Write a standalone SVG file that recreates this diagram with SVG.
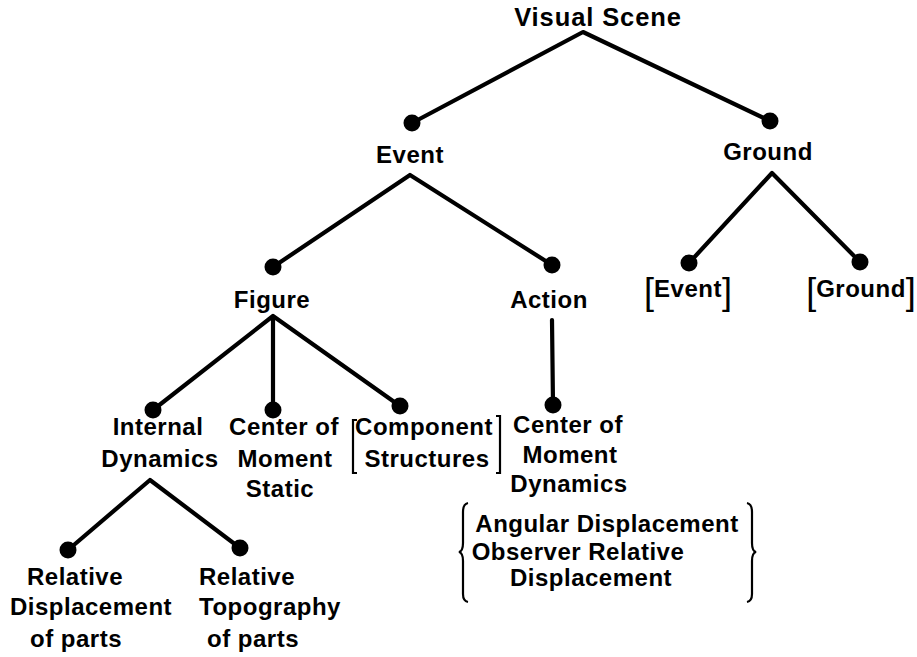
<svg xmlns="http://www.w3.org/2000/svg" width="917" height="657" viewBox="0 0 917 657">
<style>
.t{font-family:"Liberation Sans",Arial,Helvetica,sans-serif;font-weight:bold;font-size:24px;letter-spacing:0.5px;text-anchor:middle;fill:#000}
.big{font-size:25.5px;letter-spacing:0.9px}
.br{font-weight:normal;font-size:36px;letter-spacing:0}
.e{stroke:#000;stroke-width:4.2;fill:none;stroke-linecap:round;stroke-linejoin:round}
.b{stroke:#000;stroke-width:2.2;fill:none}
.d{fill:#000}
</style>
<rect width="917" height="657" fill="#fff"/>
<g id="connectors">
<path class="e" d="M412 123 L583 32 L770 121"/>
<path class="e" d="M273 267 L410 175 L552 265"/>
<path class="e" d="M689 263 L772 173 L860 262"/>
<path class="e" d="M153 410 L273 316 L400 406 M273 316 L273 410"/>
<path class="e" d="M552 320 L553 405"/>
<path class="e" d="M68 550 L150 480 L240 548"/>
</g>
<g id="visual-scene"><text class="t big" x="598" y="26">Visual Scene</text></g>
<g id="event"><circle class="d" cx="412" cy="123" r="8.5"/><text class="t" x="410" y="163">Event</text></g>
<g id="ground"><circle class="d" cx="770" cy="121" r="8.5"/><text class="t" x="768" y="160">Ground</text></g>
<g id="figure"><circle class="d" cx="273" cy="267" r="8.5"/><text class="t" x="272" y="308">Figure</text></g>
<g id="action"><circle class="d" cx="552" cy="265" r="8.5"/><text class="t" x="549" y="308">Action</text></g>
<g id="ground-event"><circle class="d" cx="689" cy="263" r="8.5"/><text class="t" x="688" y="297"><tspan class="br" dy="7">[</tspan><tspan dy="-7">Event</tspan><tspan class="br" dy="7">]</tspan></text></g>
<g id="ground-ground"><circle class="d" cx="860" cy="262" r="8.5"/><text class="t" x="861" y="297"><tspan class="br" dy="7">[</tspan><tspan dy="-7">Ground</tspan><tspan class="br" dy="7">]</tspan></text></g>
<g id="internal-dynamics"><circle class="d" cx="153" cy="410" r="8.5"/><text class="t" y="435"><tspan x="158">Internal</tspan><tspan x="160" dy="32">Dynamics</tspan></text></g>
<g id="center-static"><circle class="d" cx="273" cy="410" r="8.5"/><text class="t" y="435"><tspan x="284">Center of</tspan><tspan x="285" dy="32">Moment</tspan><tspan x="280" dy="30">Static</tspan></text></g>
<g id="component-structures"><circle class="d" cx="400" cy="406" r="8.5"/><text class="t" y="435"><tspan x="424">Component</tspan><tspan x="427" dy="32">Structures</tspan></text><path class="b" d="M357 420 H353 V473 H357 M496 416 H500 V473 H496"/></g>
<g id="center-dynamics"><circle class="d" cx="553" cy="405" r="8.5"/><text class="t" y="433"><tspan x="568">Center of</tspan><tspan x="570" dy="30">Moment</tspan><tspan x="569" dy="29">Dynamics</tspan></text></g>
<g id="displacement-types"><text class="t" y="532"><tspan x="607">Angular Displacement</tspan><tspan x="578" dy="28">Observer Relative</tspan><tspan x="591" dy="26">Displacement</tspan></text><path class="b" d="M468 503 Q463 504 463 512 V543 Q463 551 459 552 Q463 553 463 561 V594 Q463 601 468 602 M747 503 Q752 504 752 512 V543 Q752 551 756 552 Q752 553 752 561 V594 Q752 601 747 602"/></g>
<g id="relative-displacement"><circle class="d" cx="68" cy="550" r="8.5"/><text class="t" y="585"><tspan x="75">Relative</tspan><tspan x="91" dy="30">Displacement</tspan><tspan x="76" dy="32">of parts</tspan></text></g>
<g id="relative-topography"><circle class="d" cx="240" cy="548" r="8.5"/><text class="t" y="585"><tspan x="247">Relative</tspan><tspan x="270" dy="30">Topography</tspan><tspan x="253" dy="32">of parts</tspan></text></g>
</svg>
